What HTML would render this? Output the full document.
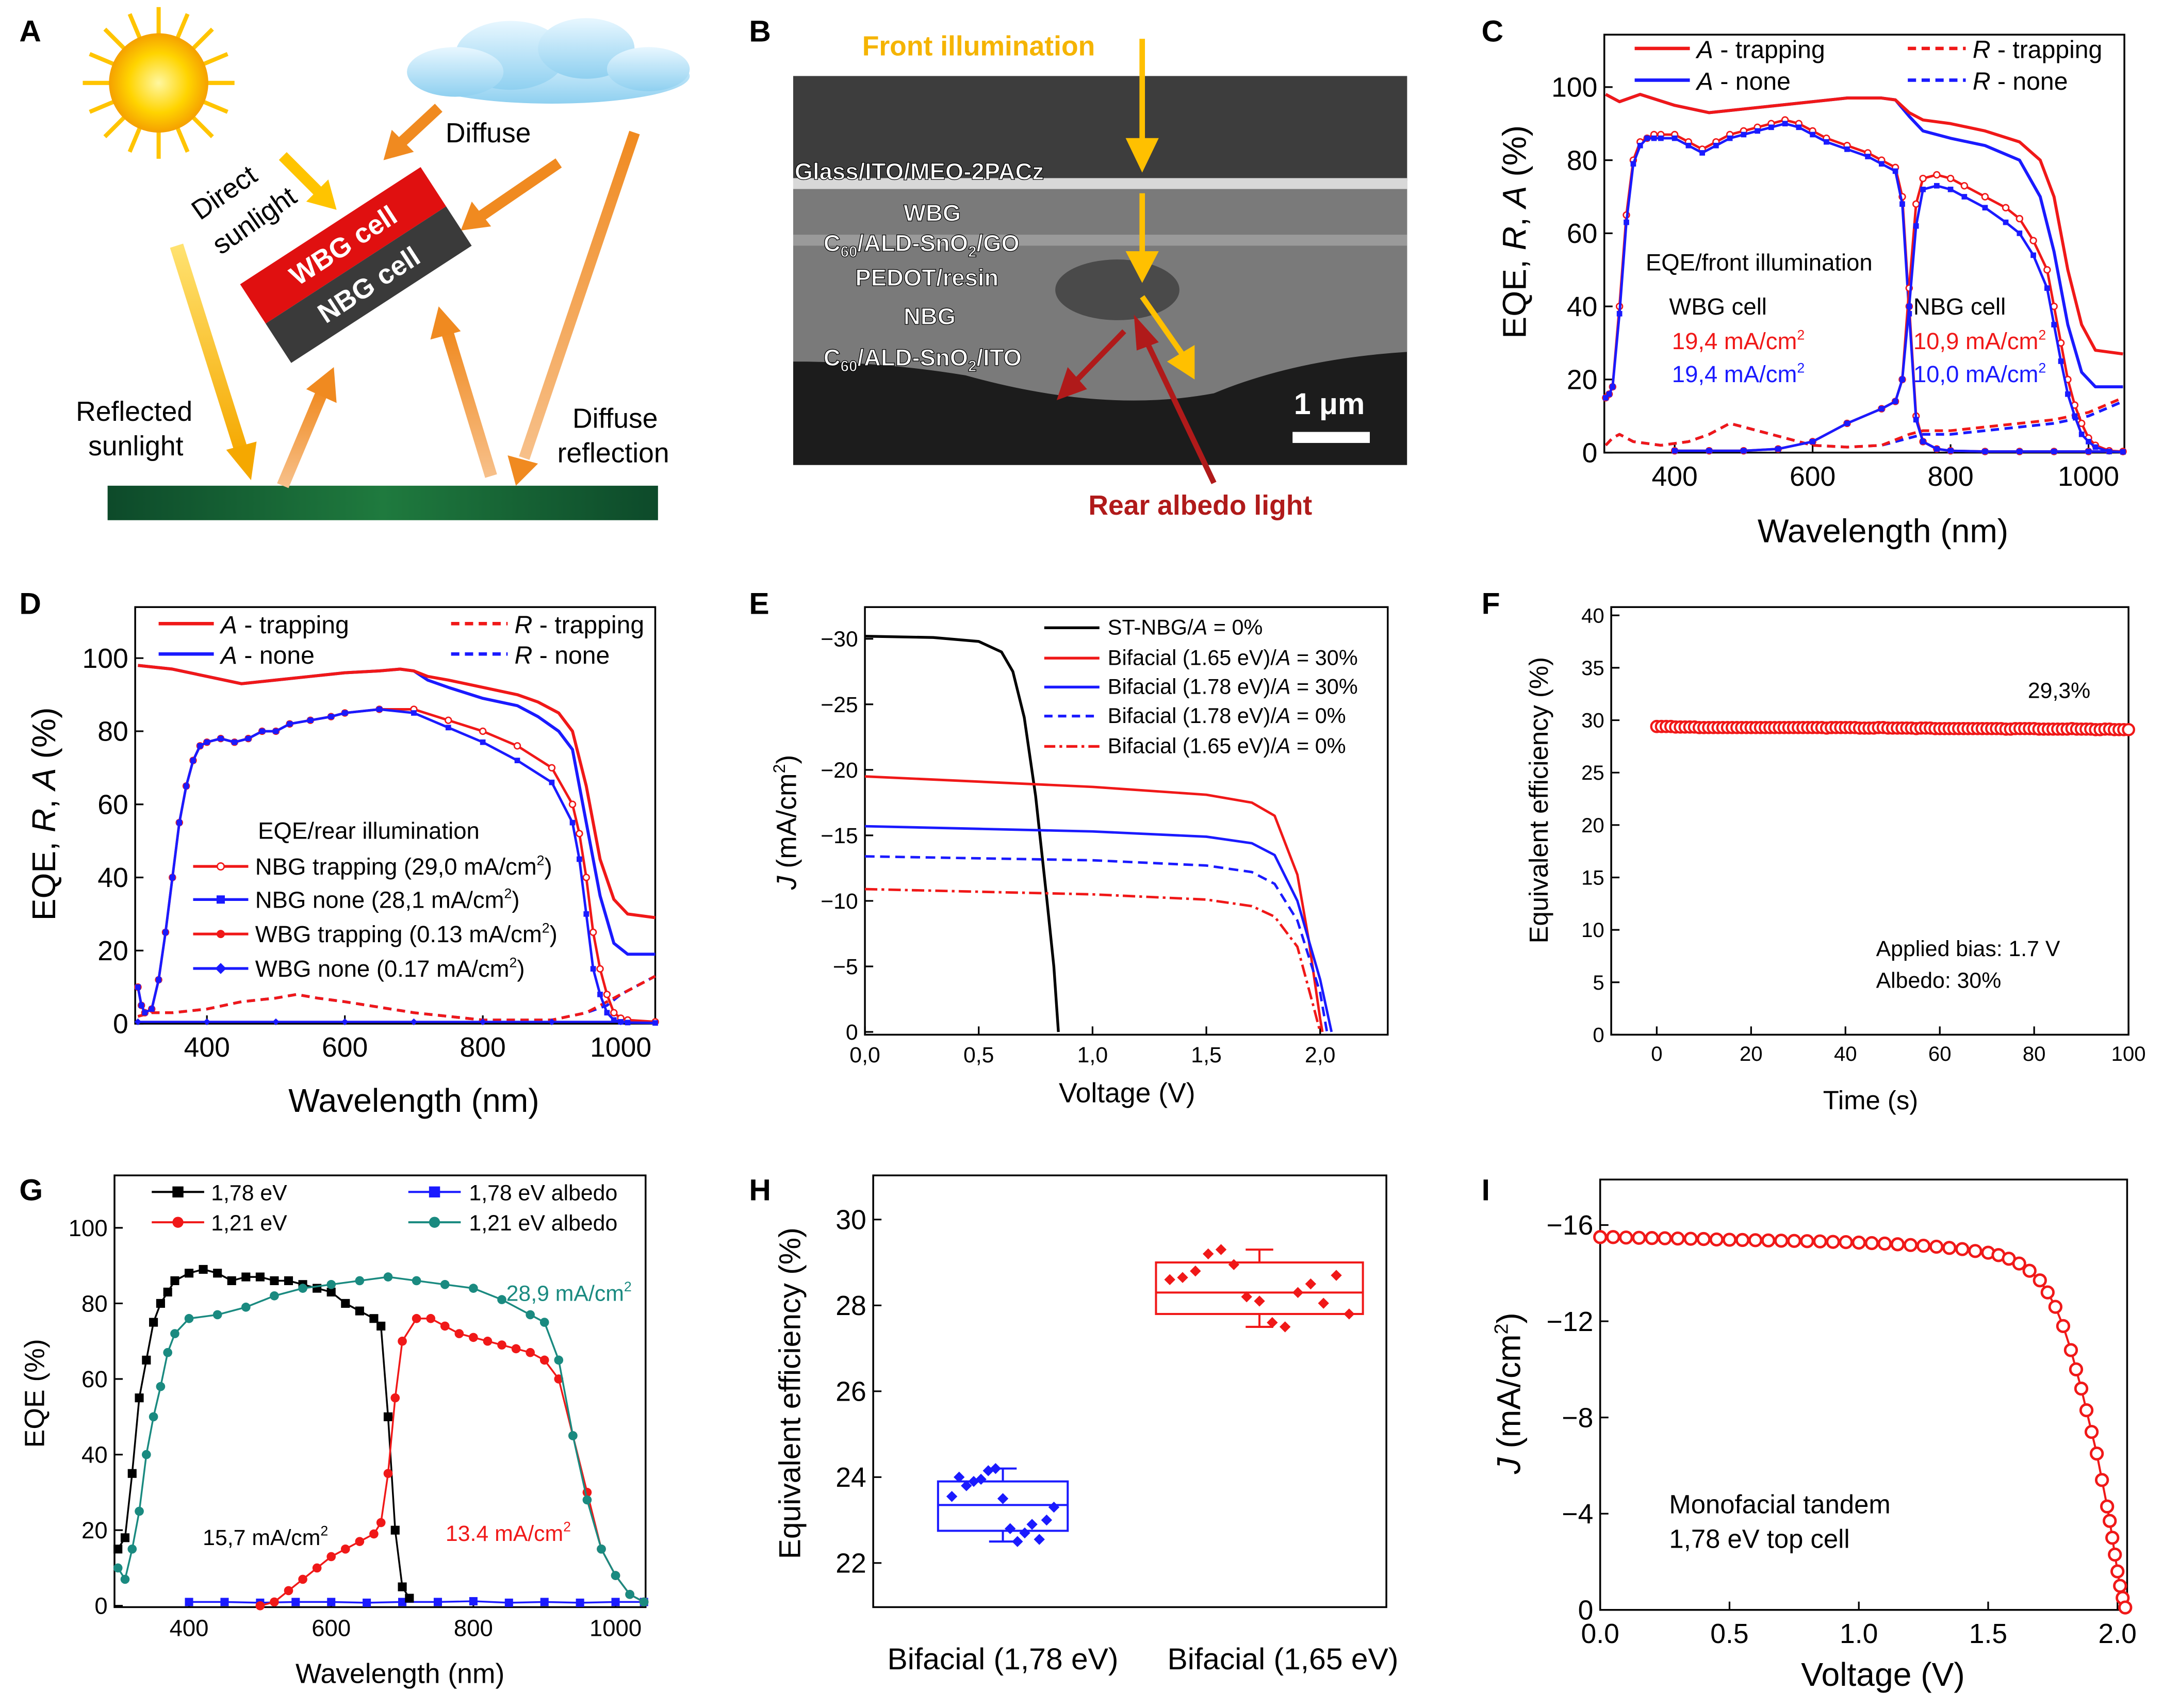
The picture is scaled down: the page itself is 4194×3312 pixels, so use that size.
<!DOCTYPE html>
<html><head><meta charset="utf-8">
<style>
html,body{margin:0;padding:0;background:#fff;}
svg{display:block;font-family:"Liberation Sans",Arial,sans-serif;}
</style></head>
<body>
<svg id="fig" xmlns="http://www.w3.org/2000/svg" width="4194" height="3312" viewBox="0 0 1568 1238">
<defs>
<radialGradient id="sunG" cx="50%" cy="50%" r="50%"><stop offset="0" stop-color="#fff7a0"/><stop offset="0.6" stop-color="#ffd400"/><stop offset="1" stop-color="#f5a000"/></radialGradient>
<linearGradient id="orG" x1="0" y1="0" x2="0" y2="1"><stop offset="0" stop-color="#f08a20"/><stop offset="1" stop-color="#f7c08a"/></linearGradient>
<linearGradient id="yeG" x1="0" y1="0" x2="0" y2="1"><stop offset="0" stop-color="#ffe270"/><stop offset="1" stop-color="#f5a800"/></linearGradient>
<linearGradient id="cloudG" x1="0" y1="0" x2="0" y2="1"><stop offset="0" stop-color="#e8f7ff"/><stop offset="1" stop-color="#8fd0f0"/></linearGradient>
<linearGradient id="grassG" x1="0" y1="0" x2="1" y2="0"><stop offset="0" stop-color="#0d4a2a"/><stop offset="0.5" stop-color="#1f7a3e"/><stop offset="1" stop-color="#0d4a2a"/></linearGradient>
</defs>

<g font-weight="bold" font-size="22" fill="#000">
<text x="14" y="30">A</text><text x="543" y="30">B</text><text x="1074" y="30">C</text>
<text x="14" y="445">D</text><text x="543" y="445">E</text><text x="1074" y="445">F</text>
<text x="14" y="870">G</text><text x="543" y="870">H</text><text x="1074" y="870">I</text>
</g>

<g>
 <g stroke="#ffc400" stroke-width="3">
  <line x1="115" y1="5" x2="115" y2="115"/><line x1="60" y1="60" x2="170" y2="60"/>
  <line x1="76" y1="21" x2="154" y2="99"/><line x1="154" y1="21" x2="76" y2="99"/>
  <line x1="94" y1="10" x2="136" y2="110"/><line x1="136" y1="10" x2="94" y2="110"/>
  <line x1="65" y1="39" x2="165" y2="81"/><line x1="65" y1="81" x2="165" y2="39"/>
  <circle cx="115" cy="60" r="36" fill="url(#sunG)" stroke="none"/>
 </g>
 <g fill="url(#cloudG)">
  <ellipse cx="400" cy="55" rx="100" ry="20"/><ellipse cx="370" cy="40" rx="40" ry="25"/><ellipse cx="425" cy="35" rx="35" ry="22"/><ellipse cx="470" cy="50" rx="30" ry="16"/><ellipse cx="330" cy="52" rx="35" ry="18"/>
 </g>
 <rect x="78" y="352" width="399" height="25" fill="url(#grassG)"/>
 <g stroke-linecap="butt">
  <line x1="128" y1="178" x2="176" y2="330" stroke="url(#yeG)" stroke-width="10"/><polygon points="182,348 164,326 186,320" fill="#f5a800"/>
  <line x1="205" y1="113" x2="232" y2="140" stroke="#ffc400" stroke-width="8"/><polygon points="244,152 222,146 238,130" fill="#ffc400"/>
  <line x1="318" y1="78" x2="290" y2="104" stroke="#f08a20" stroke-width="8"/><polygon points="278,116 284,94 300,110" fill="#f08a20"/>
  <line x1="405" y1="118" x2="348" y2="157" stroke="#f08a20" stroke-width="8"/><polygon points="334,167 342,146 356,164" fill="#f08a20"/>
  <line x1="460" y1="96" x2="380" y2="332" stroke="url(#orG)" stroke-width="8"/><polygon points="374,352 368,330 390,336" fill="#f08a20"/>
  <line x1="205" y1="352" x2="234" y2="283" stroke="url(#orG)" stroke-width="9"/><polygon points="242,266 244,292 222,282" fill="#f08a20"/>
  <line x1="356" y1="345" x2="324" y2="240" stroke="url(#orG)" stroke-width="9"/><polygon points="318,222 334,240 312,246" fill="#f08a20"/>
 </g>
 <g transform="translate(258,192) rotate(-33)">
  <rect x="-78" y="-34" width="156" height="34" fill="#e01010"/>
  <rect x="-78" y="0" width="156" height="34" fill="#3a3a3a"/>
  <text x="0" y="-10" fill="#fff" font-weight="bold" font-size="20" text-anchor="middle">WBG cell</text>
  <text x="0" y="24" fill="#fff" font-weight="bold" font-size="20" text-anchor="middle">NBG cell</text>
 </g>
 <g font-size="20" fill="#000">
  <text transform="translate(145,160) rotate(-35)">Direct</text>
  <text transform="translate(160,185) rotate(-35)">sunlight</text>
  <text x="323" y="103">Diffuse</text>
  <text x="55" y="305">Reflected</text><text x="64" y="330">sunlight</text>
  <text x="415" y="310">Diffuse</text><text x="404" y="335">reflection</text>
 </g>
</g>

<g>
 <rect x="575" y="55" width="445" height="282" fill="#1c1c1c"/>
 <rect x="575" y="55" width="445" height="76" fill="#3d3d3d"/>
 <rect x="575" y="129" width="445" height="8" fill="#d8d8d8"/>
 <path d="M575,137 H1020 V255 Q940,260 880,285 Q800,300 700,272 Q640,262 575,262 Z" fill="#7a7a7a"/>
 <rect x="575" y="170" width="445" height="8" fill="#9a9a9a"/>
 <ellipse cx="810" cy="210" rx="45" ry="22" fill="#4a4a4a"/>
 <g fill="#fff" font-weight="bold" font-size="17" stroke="#000" stroke-width="0.5">
  <text x="576" y="130">Glass/ITO/MEO-2PACz</text>
  <text x="655" y="160">WBG</text>
  <text x="597" y="182">C<tspan font-size="11" dy="4">60</tspan><tspan dy="-4">/ALD-SnO</tspan><tspan font-size="11" dy="4">2</tspan><tspan dy="-4">/GO</tspan></text>
  <text x="620" y="207">PEDOT/resin</text>
  <text x="655" y="235">NBG</text>
  <text x="597" y="265">C<tspan font-size="11" dy="4">60</tspan><tspan dy="-4">/ALD-SnO</tspan><tspan font-size="11" dy="4">2</tspan><tspan dy="-4">/ITO</tspan></text>
 </g>
 <text x="938" y="300" fill="#fff" font-size="22" font-weight="bold">1 μm</text>
 <rect x="937" y="313" width="56" height="8" fill="#fff"/>
 <text x="625" y="40" fill="#f5b400" font-weight="bold" font-size="20">Front illumination</text>
 <line x1="828" y1="28" x2="828" y2="105" stroke="#ffc000" stroke-width="4"/><polygon points="816,100 840,100 828,125" fill="#ffc000"/>
 <line x1="828" y1="140" x2="828" y2="185" stroke="#ffc000" stroke-width="4"/><polygon points="816,182 840,182 828,205" fill="#ffc000"/>
 <line x1="828" y1="215" x2="858" y2="258" stroke="#ffc000" stroke-width="4"/><polygon points="846,262 866,250 866,275" fill="#ffc000"/>
 <line x1="880" y1="350" x2="830" y2="245" stroke="#b01a1a" stroke-width="4"/><polygon points="822,228 840,248 824,254" fill="#b01a1a"/>
 <line x1="815" y1="240" x2="780" y2="276" stroke="#b01a1a" stroke-width="4"/><polygon points="766,290 774,266 788,282" fill="#b01a1a"/>
 <text x="789" y="373" fill="#b01a1a" font-weight="bold" font-size="20">Rear albedo light</text>
</g>

<g id="charts"></g>
<g id="texts" font-size="18" fill="#000">
 <g>
  <line x1="1185" y1="35" x2="1225" y2="35" stroke="#f01818" stroke-width="2.5"/><text x="1230" y="42"><tspan font-style="italic">A</tspan> - trapping</text>
  <line x1="1185" y1="58" x2="1225" y2="58" stroke="#1a1aff" stroke-width="2.5"/><text x="1230" y="65"><tspan font-style="italic">A</tspan> - none</text>
  <line x1="1383" y1="35" x2="1425" y2="35" stroke="#f01818" stroke-width="2.5" stroke-dasharray="6,4"/><text x="1430" y="42"><tspan font-style="italic">R</tspan> - trapping</text>
  <line x1="1383" y1="58" x2="1425" y2="58" stroke="#1a1aff" stroke-width="2.5" stroke-dasharray="6,4"/><text x="1430" y="65"><tspan font-style="italic">R</tspan> - none</text>
 </g>
 <text x="1193" y="196" font-size="17">EQE/front illumination</text>
 <text x="1210" y="228" font-size="17">WBG cell</text>
 <text x="1212" y="253" font-size="17" fill="#f01818">19,4 mA/cm<tspan font-size="10" dy="-7">2</tspan></text>
 <text x="1212" y="277" font-size="17" fill="#1a1aff">19,4 mA/cm<tspan font-size="10" dy="-7">2</tspan></text>
 <text x="1387" y="228" font-size="17">NBG cell</text>
 <text x="1387" y="253" font-size="17" fill="#f01818">10,9 mA/cm<tspan font-size="10" dy="-7">2</tspan></text>
 <text x="1387" y="277" font-size="17" fill="#1a1aff">10,0 mA/cm<tspan font-size="10" dy="-7">2</tspan></text>
 <text x="1365" y="393" font-size="24" text-anchor="middle">Wavelength (nm)</text>
 <text transform="translate(1106,168) rotate(-90)" font-size="24" text-anchor="middle">EQE, <tspan font-style="italic">R</tspan>, <tspan font-style="italic">A</tspan> (%)</text>
 <g>
  <line x1="115" y1="452" x2="155" y2="452" stroke="#f01818" stroke-width="2.5"/><text x="160" y="459"><tspan font-style="italic">A</tspan> - trapping</text>
  <line x1="115" y1="474" x2="155" y2="474" stroke="#1a1aff" stroke-width="2.5"/><text x="160" y="481"><tspan font-style="italic">A</tspan> - none</text>
  <line x1="327" y1="452" x2="368" y2="452" stroke="#f01818" stroke-width="2.5" stroke-dasharray="6,4"/><text x="373" y="459"><tspan font-style="italic">R</tspan> - trapping</text>
  <line x1="327" y1="474" x2="368" y2="474" stroke="#1a1aff" stroke-width="2.5" stroke-dasharray="6,4"/><text x="373" y="481"><tspan font-style="italic">R</tspan> - none</text>
 </g>
 <text x="187" y="608" font-size="17">EQE/rear illumination</text>
 <g font-size="17">
  <line x1="140" y1="628" x2="180" y2="628" stroke="#f01818" stroke-width="2"/><circle cx="160" cy="628" r="2.5" fill="#fff" stroke="#f01818"/><text x="185" y="634">NBG trapping (29,0 mA/cm<tspan font-size="10" dy="-7">2</tspan><tspan dy="7">)</tspan></text>
  <line x1="140" y1="652" x2="180" y2="652" stroke="#1a1aff" stroke-width="2"/><rect x="157" y="649" width="6" height="6" fill="#1a1aff"/><text x="185" y="658">NBG none (28,1 mA/cm<tspan font-size="10" dy="-7">2</tspan><tspan dy="7">)</tspan></text>
  <line x1="140" y1="677" x2="180" y2="677" stroke="#f01818" stroke-width="2"/><circle cx="160" cy="677" r="3" fill="#f01818"/><text x="185" y="683">WBG trapping (0.13 mA/cm<tspan font-size="10" dy="-7">2</tspan><tspan dy="7">)</tspan></text>
  <line x1="140" y1="702" x2="180" y2="702" stroke="#1a1aff" stroke-width="2"/><polygon points="160,698 164,702 160,706 156,702" fill="#1a1aff"/><text x="185" y="708">WBG none (0.17 mA/cm<tspan font-size="10" dy="-7">2</tspan><tspan dy="7">)</tspan></text>
 </g>
 <text x="300" y="806" font-size="24" text-anchor="middle">Wavelength (nm)</text>
 <text transform="translate(40,590) rotate(-90)" font-size="24" text-anchor="middle">EQE, <tspan font-style="italic">R</tspan>, <tspan font-style="italic">A</tspan> (%)</text>
 <g font-size="15.5">
  <line x1="757" y1="455" x2="797" y2="455" stroke="#000" stroke-width="2"/><text x="803" y="460">ST-NBG/<tspan font-style="italic">A</tspan> = 0%</text>
  <line x1="757" y1="477" x2="797" y2="477" stroke="#f01818" stroke-width="2"/><text x="803" y="482">Bifacial (1.65 eV)/<tspan font-style="italic">A</tspan> = 30%</text>
  <line x1="757" y1="498" x2="797" y2="498" stroke="#1a1aff" stroke-width="2"/><text x="803" y="503">Bifacial (1.78 eV)/<tspan font-style="italic">A</tspan> = 30%</text>
  <line x1="757" y1="519" x2="797" y2="519" stroke="#1a1aff" stroke-width="2" stroke-dasharray="6,4"/><text x="803" y="524">Bifacial (1.78 eV)/<tspan font-style="italic">A</tspan> = 0%</text>
  <line x1="757" y1="541" x2="797" y2="541" stroke="#f01818" stroke-width="2" stroke-dasharray="8,3,2,3"/><text x="803" y="546">Bifacial (1.65 eV)/<tspan font-style="italic">A</tspan> = 0%</text>
 </g>
 <text x="817" y="799" font-size="20" text-anchor="middle">Voltage (V)</text>
 <text transform="translate(577,596) rotate(-90)" font-size="20" text-anchor="middle"><tspan font-style="italic">J</tspan> (mA/cm<tspan font-size="12" dy="-8">2</tspan><tspan dy="8">)</tspan></text>
 <text x="1470" y="506" font-size="16">29,3%</text>
 <text x="1360" y="693" font-size="16">Applied bias: 1.7 V</text>
 <text x="1360" y="716" font-size="16">Albedo: 30%</text>
 <text x="1356" y="804" font-size="19" text-anchor="middle">Time (s)</text>
 <text transform="translate(1122,580) rotate(-90)" font-size="19" text-anchor="middle">Equivalent efficiency (%)</text>
 <g font-size="16">
  <line x1="110" y1="864" x2="148" y2="864" stroke="#000" stroke-width="1.5"/><rect x="125" y="860" width="8" height="8" fill="#000"/><text x="153" y="870">1,78 eV</text>
  <line x1="110" y1="886" x2="148" y2="886" stroke="#f01818" stroke-width="1.5"/><circle cx="129" cy="886" r="4" fill="#f01818"/><text x="153" y="892">1,21 eV</text>
  <line x1="296" y1="864" x2="334" y2="864" stroke="#1a1aff" stroke-width="1.5"/><rect x="311" y="860" width="8" height="8" fill="#1a1aff"/><text x="340" y="870">1,78 eV albedo</text>
  <line x1="296" y1="886" x2="334" y2="886" stroke="#1a8a80" stroke-width="1.5"/><circle cx="315" cy="886" r="4" fill="#1a8a80"/><text x="340" y="892">1,21 eV albedo</text>
 </g>
 <text x="367" y="943" font-size="16" fill="#1a8a80">28,9 mA/cm<tspan font-size="10" dy="-7">2</tspan></text>
 <text x="147" y="1120" font-size="16">15,7 mA/cm<tspan font-size="10" dy="-7">2</tspan></text>
 <text x="323" y="1117" font-size="16" fill="#f01818">13.4 mA/cm<tspan font-size="10" dy="-7">2</tspan></text>
 <text x="290" y="1220" font-size="20" text-anchor="middle">Wavelength (nm)</text>
 <text transform="translate(32,1010) rotate(-90)" font-size="20" text-anchor="middle">EQE (%)</text>
 <text x="727" y="1210" font-size="22" text-anchor="middle">Bifacial (1,78 eV)</text>
 <text x="930" y="1210" font-size="22" text-anchor="middle">Bifacial (1,65 eV)</text>
 <text transform="translate(580,1010) rotate(-90)" font-size="22" text-anchor="middle">Equivalent efficiency (%)</text>
 <text x="1210" y="1097" font-size="19">Monofacial tandem</text>
 <text x="1210" y="1122" font-size="19">1,78 eV top cell</text>
 <text x="1365" y="1222" font-size="24" text-anchor="middle">Voltage (V)</text>
 <text transform="translate(1102,1010) rotate(-90)" font-size="24" text-anchor="middle"><tspan font-style="italic">J</tspan> (mA/cm<tspan font-size="14" dy="-9">2</tspan><tspan dy="9">)</tspan></text>
</g>
</svg>

<script>
const cAtrapX=[300,320,350,400,450,500,550,600,650,700,720,740,760,800,850,900,930,950,970,990,1010,1050];
const cAtrapY=[98,96,98,95,93,94,95,96,97,97,96.5,93,91,90,88,85,80,70,50,35,28,27];
const cAnoneX=[300,320,350,400,450,500,550,600,650,700,720,740,760,800,850,900,930,950,970,990,1010,1050];
const cAnoneY=[98,96,98,95,93,94,95,96,97,97,96.5,92,88,86,84,80,70,55,35,22,18,18];
const cWbgX=[300,305,310,320,330,340,350,360,370,380,400,420,440,460,480,500,520,540,560,580,600,620,650,680,700,720,730,740,750,760,780,800,850,900,950,1000,1050];
const cWbgTrapY=[15,16,18,40,65,80,85,86,87,87,87,85,83,85,87,88,89,90,91,90,88,86,84,82,80,78,70,40,10,3,1,0.5,0.3,0.3,0.3,0.3,0.3];
const cWbgNoneY=[15,16,18,38,63,79,84,86,86,86,86,84,82,84,86,87,88,89,90,89,87,85,83,81,79,77,68,38,9,3,1,0.5,0.3,0.3,0.3,0.3,0.3];
const cNbgX=[400,450,500,550,600,650,700,720,730,740,750,760,780,800,820,850,880,900,920,940,950,960,970,980,990,1000,1010,1030,1050];
const cNbgTrapY=[0.5,0.5,0.5,1,3,8,12,14,20,45,68,75,76,75,73,70,67,64,58,50,40,30,20,13,8,4,2,0.5,0.3];
const cNbgNoneY=[0.5,0.5,0.5,1,3,8,12,14,20,40,62,72,73,72,70,67,63,60,54,45,35,25,16,10,5,3,1.5,0.3,0.2];
const cRX=[300,310,320,340,380,420,450,480,520,560,600,650,700,740,760,800,850,900,950,1000,1050];
const cRtrapY=[2,4,5,3,2,3,5,8,6,4,2,1.5,2,5,6,6,7,8,9,11,15];
const cRnoneY=[2,4,5,3,2,3,5,8,6,4,2,1.5,2,4,5,5,6,7,8,10,14];
const dAX=[300,350,400,450,500,550,600,650,680,700,720,750,800,850,880,910,930,950,970,990,1010,1050];
const dAtrapY=[98,97,95,93,94,95,96,96.5,97,96.5,95,94,92,90,88,85,80,65,45,34,30,29];
const dAnoneY=[98,97,95,93,94,95,96,96.5,97,96.5,94,92,89,87,84,80,75,55,35,22,19,19];
const dNbgX=[300,305,310,320,330,340,350,360,370,380,390,400,420,440,460,480,500,520,550,580,600,650,700,750,800,850,900,930,940,950,960,970,980,990,1000,1010,1050];
const dNbgTrapY=[10,5,3,4,12,25,40,55,65,72,76,77,78,77,78,80,80,82,83,84,85,86,86,83,80,76,70,60,52,40,25,15,8,3,1.5,1,0.5];
const dNbgNoneY=[10,5,3,4,12,25,40,55,65,72,76,77,78,77,78,80,80,82,83,84,85,86,85,81,77,72,66,55,45,30,15,8,3,1,0.5,0.3,0.2];
const dWbgX=[300,400,500,600,700,800,900,1000,1050];
const dWbgY=[0.5,0.5,0.5,0.5,0.5,0.5,0.5,0.5,0.5];
const dRX=[300,320,350,400,450,500,530,560,600,650,700,750,800,850,900,950,980,1000,1050];
const dRtrapY=[2,3,3,4,6,7,8,7,6,4.5,3,2,1,1,1,3,6,8,13];
const dRnoneY=[2,3,3,4,6,7,8,7,6,4.5,3,2,1,1,1,3,5,8,13];
const eBlackV=[0,0.3,0.5,0.6,0.65,0.7,0.75,0.8,0.83,0.85];
const eBlackJ=[30.2,30.1,29.8,29.0,27.5,24,18,10,5,0];
const eRed30V=[0,0.5,1.0,1.5,1.7,1.8,1.9,1.95,2.0,2.01];
const eRed30J=[19.5,19.1,18.7,18.1,17.5,16.5,12,7,1,0];
const eBlue30V=[0,0.5,1.0,1.5,1.7,1.8,1.9,2.0,2.05];
const eBlue30J=[15.7,15.5,15.3,14.9,14.4,13.5,10,4,0];
const eBlue0V=[0,1.0,1.5,1.7,1.8,1.9,2.0,2.03];
const eBlue0J=[13.4,13.1,12.7,12.2,11.3,8.5,3,0];
const eRed0V=[0,1.0,1.5,1.7,1.8,1.9,1.97,2.0];
const eRed0J=[10.9,10.5,10.1,9.6,8.8,6.5,2,0];
const fTime=[0,1,2,3,4,5,6,7,8,9,10,11,12,13,14,15,16,17,18,19,20,21,22,23,24,25,26,27,28,29,30,31,32,33,34,35,36,37,38,39,40,41,42,43,44,45,46,47,48,49,50,51,52,53,54,55,56,57,58,59,60,61,62,63,64,65,66,67,68,69,70,71,72,73,74,75,76,77,78,79,80,81,82,83,84,85,86,87,88,89,90,91,92,93,94,95,96,97,98,99,100];
const fEff=[29.4,29.4,29.4,29.4,29.35,29.35,29.35,29.35,29.35,29.3,29.3,29.3,29.3,29.3,29.3,29.3,29.3,29.3,29.3,29.3,29.3,29.3,29.3,29.3,29.3,29.3,29.3,29.3,29.3,29.3,29.3,29.3,29.3,29.3,29.3,29.3,29.25,29.3,29.3,29.3,29.3,29.3,29.3,29.25,29.25,29.25,29.25,29.3,29.3,29.25,29.25,29.25,29.25,29.25,29.25,29.2,29.25,29.25,29.25,29.2,29.2,29.2,29.2,29.2,29.2,29.2,29.2,29.2,29.2,29.2,29.2,29.2,29.2,29.2,29.15,29.15,29.2,29.2,29.2,29.2,29.2,29.15,29.15,29.15,29.15,29.15,29.15,29.15,29.2,29.15,29.15,29.15,29.15,29.1,29.1,29.15,29.15,29.1,29.1,29.1,29.1];
const gBlackX=[300,310,320,330,340,350,360,370,380,400,420,440,460,480,500,520,540,560,580,600,620,640,660,670,680,690,700,710];
const gBlackY=[15,18,35,55,65,75,80,83,86,88,89,88,86,87,87,86,86,85,84,83,80,78,76,74,50,20,5,2];
const gRedX=[500,520,540,560,580,600,620,640,660,670,680,690,700,720,740,760,780,800,820,840,860,880,900,920,940,960,980,1000,1020,1040];
const gRedY=[0,1,4,7,10,13,15,17,19,22,35,55,70,76,76,74,72,71,70,69,68,67,65,60,45,30,15,8,3,1];
const gTealX=[300,310,320,330,340,350,360,370,380,400,440,480,520,560,600,640,680,720,760,800,840,880,900,920,940,960,980,1000,1020,1040];
const gTealY=[10,7,15,25,40,50,58,67,72,76,77,79,82,84,85,86,87,86,85,84,81,77,75,65,45,28,15,8,3,1];
const gBlueX=[400,450,500,550,600,650,700,750,800,850,900,950,1000,1040];
const gBlueY=[1,1,0.8,1,1,0.8,1,1,1.2,0.8,1,0.8,1,1];
const hBlue=[23.55,24.0,23.8,23.9,23.95,24.15,24.2,23.5,22.8,22.5,22.7,22.9,22.55,23.0,23.3];
const hRed=[28.6,28.65,28.8,29.2,29.3,28.95,28.2,28.1,27.6,27.5,28.3,28.5,28.05,28.7,27.8];
const hBlueBox=[22.5,22.75,23.35,23.9,24.2];
const hRedBox=[27.5,27.8,28.3,29.0,29.3];
const iV=[0,0.05,0.1,0.15,0.2,0.25,0.3,0.35,0.4,0.45,0.5,0.55,0.6,0.65,0.7,0.75,0.8,0.85,0.9,0.95,1.0,1.05,1.1,1.15,1.2,1.25,1.3,1.35,1.4,1.45,1.5,1.54,1.58,1.62,1.66,1.7,1.73,1.76,1.79,1.82,1.84,1.86,1.88,1.9,1.92,1.94,1.96,1.97,1.98,1.99,2.0,2.01,2.02,2.03];
const iJ=[15.5,15.5,15.48,15.47,15.46,15.45,15.44,15.43,15.42,15.4,15.39,15.38,15.37,15.36,15.35,15.34,15.33,15.32,15.3,15.29,15.27,15.25,15.23,15.2,15.17,15.14,15.1,15.05,15.0,14.92,14.85,14.75,14.6,14.4,14.1,13.7,13.2,12.6,11.8,10.8,10.0,9.2,8.3,7.4,6.5,5.4,4.3,3.7,3.0,2.3,1.6,1.0,0.5,0.1];

const NS='http://www.w3.org/2000/svg';
const root=document.getElementById('charts');
function mk(tag,attrs,parent){const e=document.createElementNS(NS,tag);for(const k in attrs)e.setAttribute(k,attrs[k]);(parent||root).appendChild(e);return e;}
function lin(d0,d1,r0,r1){return v=>r0+(v-d0)*(r1-r0)/(d1-d0);}

function frame(name,x0,y0,x1,y1){
 const r=mk('rect',{x:x0,y:y0,width:x1-x0,height:y1-y0,fill:'none',stroke:'#000','stroke-width':1.3});
 
 
}
function xTicks(name,sx,vals,labs,yb,fs){
 const g=mk('g',{'font-size':fs,'text-anchor':'middle'});
 
 
 vals.forEach((v,i)=>{const x=sx(v);mk('line',{x1:x,x2:x,y1:yb,y2:yb-6,stroke:'#000','stroke-width':1.2},g);
  const t=mk('text',{x:x,y:yb+fs+4},g);t.textContent=labs[i];});
}
function yTicks(name,sy,vals,labs,xb,fs){
 const g=mk('g',{'font-size':fs,'text-anchor':'end'});
 
 
 vals.forEach((v,i)=>{const y=sy(v);mk('line',{x1:xb,x2:xb+6,y1:y,y2:y,stroke:'#000','stroke-width':1.2},g);
  const t=mk('text',{x:xb-5,y:y+fs*0.35},g);t.textContent=labs[i];});
}
function series(name,xs,ys,sx,sy,color,w,dash,marker,ms,mw){
 const g=mk('g',{});
 
 
 const d=xs.map((x,i)=>(i?'L':'M')+sx(x).toFixed(2)+','+sy(ys[i]).toFixed(2)).join('');
 const p=mk('path',{d:d,fill:'none',stroke:color,'stroke-width':w,'stroke-linejoin':'round'},g);
 if(dash)p.setAttribute('stroke-dasharray',dash);
 if(marker){xs.forEach((x,i)=>{const cx=sx(x),cy=sy(ys[i]);let m;
  if(marker==='sq')m=mk('rect',{x:cx-ms,y:cy-ms,width:2*ms,height:2*ms,fill:color},g);
  else if(marker==='oc')m=mk('circle',{cx:cx,cy:cy,r:ms,fill:'#fff',stroke:color,'stroke-width':mw||1},g);
  else if(marker==='dm')m=mk('polygon',{points:`${cx},${cy-ms} ${cx+ms},${cy} ${cx},${cy+ms} ${cx-ms},${cy}`,fill:color},g);
  else m=mk('circle',{cx:cx,cy:cy,r:ms,fill:color},g);
  
  });}
}
const RED='#f01818',BLUE='#1a1aff',TEAL='#1a8a80';

(function(){const sx=lin(300,1050,1164,1539),sy=lin(0,100,328,63);
 frame('plot-frame-c',1163,25,1540,328);
 xTicks('x-axis-c',sx,[400,600,800,1000],['400','600','800','1000'],328,20);
 yTicks('y-axis-c',sy,[0,20,40,60,80,100],['0','20','40','60','80','100'],1163,20);
 series('r-none-c',cRX,cRnoneY,sx,sy,BLUE,2,'6,4');
 series('r-trapping-c',cRX,cRtrapY,sx,sy,RED,2,'6,4');
 series('a-none-c',cAnoneX,cAnoneY,sx,sy,BLUE,2.2);
 series('a-trapping-c',cAtrapX,cAtrapY,sx,sy,RED,2.2);
 series('wbg-trapping-c',cWbgX,cWbgTrapY,sx,sy,RED,1.8,null,'oc',2.2);
 series('wbg-none-c',cWbgX,cWbgNoneY,sx,sy,BLUE,1.8,null,'sq',2);
 series('nbg-trapping-c',cNbgX,cNbgTrapY,sx,sy,RED,1.8,null,'oc',2.2);
 series('nbg-none-c',cNbgX,cNbgNoneY,sx,sy,BLUE,1.8,null,'sq',2);
})();
(function(){const sx=lin(300,1050,100,475),sy=lin(0,100,742,477);
 frame('plot-frame-d',98,440,475,742);
 xTicks('x-axis-d',sx,[400,600,800,1000],['400','600','800','1000'],742,20);
 yTicks('y-axis-d',sy,[0,20,40,60,80,100],['0','20','40','60','80','100'],98,20);
 series('r-none-d',dRX,dRnoneY,sx,sy,BLUE,2,'6,4');
 series('r-trapping-d',dRX,dRtrapY,sx,sy,RED,2,'6,4');
 series('a-none-d',dAX,dAnoneY,sx,sy,BLUE,2.2);
 series('a-trapping-d',dAX,dAtrapY,sx,sy,RED,2.2);
 series('wbg-trapping-d',dWbgX,dWbgY,sx,sy,RED,1.5,null,'c',1.8);
 series('wbg-none-d',dWbgX,dWbgY,sx,sy,BLUE,1.5,null,'dm',2.5);
 series('nbg-trapping-d',dNbgX,dNbgTrapY,sx,sy,RED,1.8,null,'oc',2.2);
 series('nbg-none-d',dNbgX,dNbgNoneY,sx,sy,BLUE,1.8,null,'sq',2);
})();
(function(){const sx=lin(0,2,627,957),sy=lin(0,30,748,463);
 frame('plot-frame-e',627,440,1006,750);
 xTicks('x-axis-e',sx,[0,0.5,1,1.5,2],['0,0','0,5','1,0','1,5','2,0'],750,16);
 yTicks('y-axis-e',sy,[0,5,10,15,20,25,30],['0','\u22125','\u221210','\u221215','\u221220','\u221225','\u221230'],627,16);
 series('jv-st-nbg',eBlackV,eBlackJ,sx,sy,'#000',2);
 series('jv-165-30',eRed30V,eRed30J,sx,sy,RED,1.8);
 series('jv-178-30',eBlue30V,eBlue30J,sx,sy,BLUE,1.8);
 series('jv-178-0',eBlue0V,eBlue0J,sx,sy,BLUE,1.8,'7,4');
 series('jv-165-0',eRed0V,eRed0J,sx,sy,RED,1.8,'9,3,2,3');
})();
(function(){const sx=lin(0,100,1201,1543),sy=lin(0,40,750,446);
 frame('plot-frame-f',1168,440,1543,750);
 xTicks('x-axis-f',sx,[0,20,40,60,80,100],['0','20','40','60','80','100'],750,15);
 yTicks('y-axis-f',sy,[0,5,10,15,20,25,30,35,40],['0','5','10','15','20','25','30','35','40'],1168,15);
 series('efficiency-trace',fTime,fEff,sx,sy,RED,1.5,null,'oc',4,1.6);
})();
(function(){const sx=lin(300,1050,85.5,472),sy=lin(0,100,1164,890);
 frame('plot-frame-g',83,852,468,1165);
 xTicks('x-axis-g',sx,[400,600,800,1000],['400','600','800','1000'],1165,17);
 yTicks('y-axis-g',sy,[0,20,40,60,80,100],['0','20','40','60','80','100'],83,17);
 series('eqe-178-albedo',gBlueX,gBlueY,sx,sy,BLUE,1.3,null,'sq',3);
 series('eqe-178',gBlackX,gBlackY,sx,sy,'#000',1.3,null,'sq',3.2);
 series('eqe-121',gRedX,gRedY,sx,sy,RED,1.3,null,'c',3.3);
 series('eqe-121-albedo',gTealX,gTealY,sx,sy,TEAL,1.3,null,'c',3.3);
})();
(function(){const sy=lin(22,30,1133,884);
 frame('plot-frame-h',633,852,1005,1165);
 yTicks('y-axis-h',sy,[22,24,26,28,30],['22','24','26','28','30'],633,20);
 function box(name,b,cx,hw,pts,color){
  const g=mk('g',{});
  
  
  mk('line',{x1:cx,x2:cx,y1:sy(b[0]),y2:sy(b[1]),stroke:color,'stroke-width':1.5},g);
  mk('line',{x1:cx,x2:cx,y1:sy(b[3]),y2:sy(b[4]),stroke:color,'stroke-width':1.5},g);
  mk('line',{x1:cx-10,x2:cx+10,y1:sy(b[0]),y2:sy(b[0]),stroke:color,'stroke-width':1.5},g);
  mk('line',{x1:cx-10,x2:cx+10,y1:sy(b[4]),y2:sy(b[4]),stroke:color,'stroke-width':1.5},g);
  mk('rect',{x:cx-hw,y:sy(b[3]),width:2*hw,height:sy(b[1])-sy(b[3]),fill:'none',stroke:color,'stroke-width':1.5},g);
  mk('line',{x1:cx-hw,x2:cx+hw,y1:sy(b[2]),y2:sy(b[2]),stroke:color,'stroke-width':1.5},g);
  pts.forEach((v,i)=>{const x=cx-hw+10+i*(2*hw-20)/(pts.length-1),y=sy(v);
   const m=mk('polygon',{points:`${x},${y-4} ${x+4},${y} ${x},${y+4} ${x-4},${y}`,fill:color},g);
   
   });
 }
 box('box-178',hBlueBox,727,47,hBlue,BLUE);
 box('box-165',hRedBox,913,75,hRed,RED);
})();
(function(){const sx=lin(0,2,1160,1535),sy=lin(0,16,1167,888);
 frame('plot-frame-i',1160,855,1542,1167);
 xTicks('x-axis-i',sx,[0,0.5,1,1.5,2],['0.0','0.5','1.0','1.5','2.0'],1167,20);
 yTicks('y-axis-i',sy,[0,4,8,12,16],['0','\u22124','\u22128','\u221212','\u221216'],1160,20);
 series('jv-monofacial',iV,iJ,sx,sy,RED,1.5,null,'oc',4.2,1.8);
})();
</script>
</body></html>
